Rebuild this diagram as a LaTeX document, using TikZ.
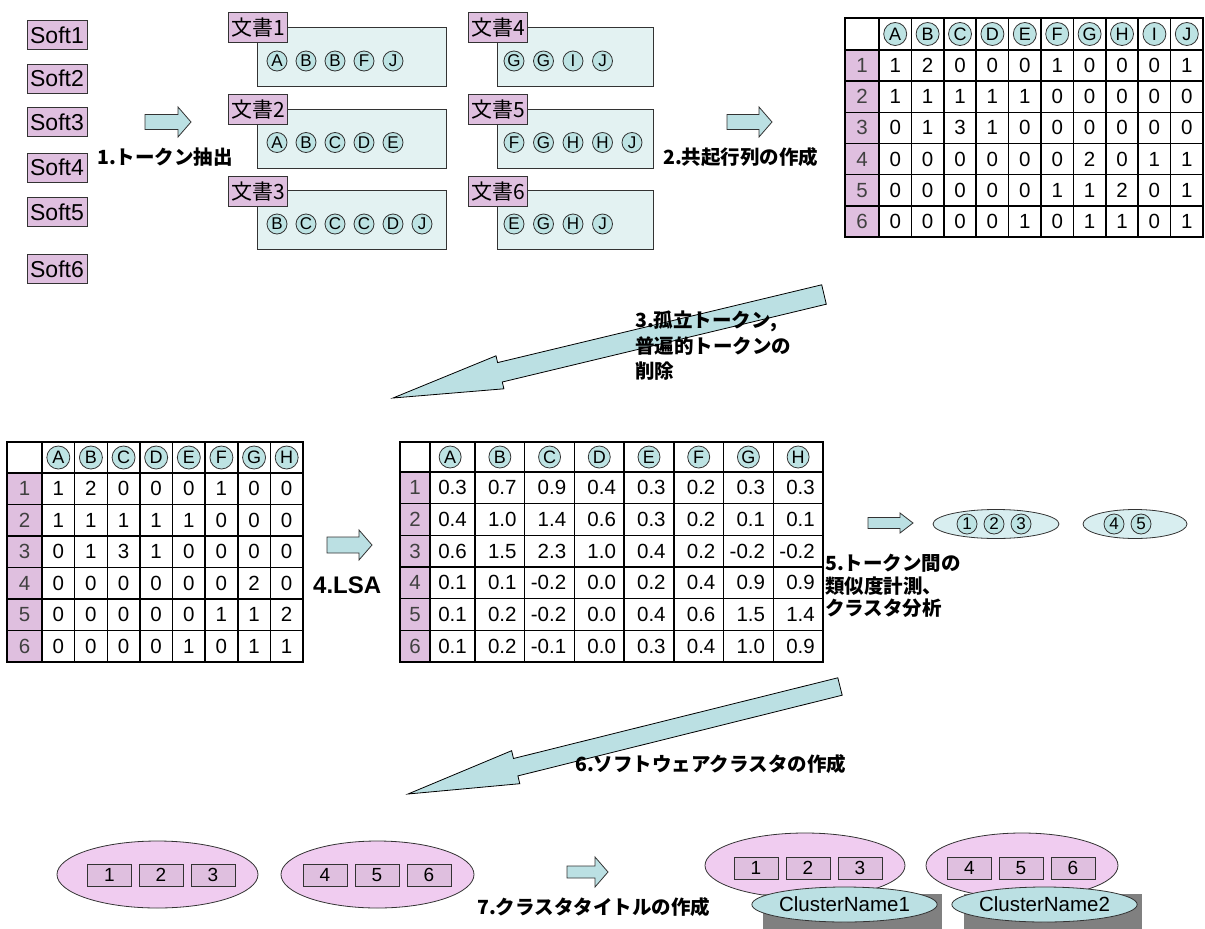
\documentclass[tikz,border=0pt]{standalone}
\usepackage{fontspec}
\setmainfont{Liberation Sans}
\newfontfamily\jp{Noto Sans CJK JP}
\usetikzlibrary{shapes.geometric}
\definecolor{pinkbox}{HTML}{DFBFDF}
\definecolor{pinkell}{HTML}{F0CCF0}
\definecolor{cyanarrow}{HTML}{BBE0E3}
\definecolor{cyandoc}{HTML}{E3F2F2}
\definecolor{cyancirc}{HTML}{BDE3E3}
\definecolor{cyanell}{HTML}{D8EEF0}
\definecolor{edge}{HTML}{333333}
\definecolor{shadowgray}{HTML}{808080}
\newcommand\blockarr[5]{% x y length bodyhalf headhalf
  \filldraw[blockarrow] (#1,#2-#4) -- (#1+#3-13,#2-#4) -- (#1+#3-13,#2-#5) -- (#1+#3,#2)
    -- (#1+#3-13,#2+#5) -- (#1+#3-13,#2+#4) -- (#1,#2+#4) -- cycle;}
\begin{document}
\begin{tikzpicture}[x=1pt,y=-1pt,
  softbox/.style={draw=edge,fill=pinkbox,line width=0.8pt,minimum width=60pt,minimum height=29pt,inner sep=0pt,font=\fontsize{23}{23}\selectfont},
  doclabel/.style={draw=edge,fill=pinkbox,line width=0.8pt,minimum width=59pt,minimum height=30pt,inner sep=0pt,anchor=north west,font=\jp\fontsize{21}{21}\selectfont},
  docbox/.style={draw=edge,fill=cyandoc,line width=0.8pt,inner sep=0pt,anchor=north west,minimum height=59pt},
  tok/.style={circle,draw=edge,fill=cyancirc,line width=0.8pt,minimum size=20pt,inner sep=0pt,font=\fontsize{17}{17}\selectfont},
  hdr/.style={tok,minimum size=23pt,font=\fontsize{18}{18}\selectfont},
  lbl/.style={font=\jp\bfseries\fontsize{19.5}{25}\selectfont,inner sep=0pt,anchor=west},
  num/.style={font=\fontsize{20.5}{20.5}\selectfont,inner sep=0pt},
  rownum/.style={num,text=black!75},
  gridthin/.style={line width=1.5pt,black},
  gridthick/.style={line width=2.8pt,black},
  blockarrow/.style={draw=edge,fill=cyanarrow,line width=0.8pt,line join=miter},
  bigarrow/.style={draw=black,fill=cyanarrow,line width=0.8pt,line join=miter},
  pinkellipse/.style={ellipse,draw=edge,fill=pinkell,line width=0.8pt,inner sep=0pt},
  tokellipse/.style={ellipse,draw=edge,fill=cyanell,line width=0.8pt,inner sep=0pt},
  numbox/.style={draw=edge,fill=pinkbox,line width=0.8pt,minimum width=44pt,minimum height=22pt,inner sep=0pt,font=\fontsize{19}{19}\selectfont},
  namebox/.style={ellipse,draw=edge,fill=cyanarrow,line width=0.8pt,inner sep=0pt,minimum width=177pt,minimum height=35pt,font=\fontsize{20.5}{20.5}\selectfont},
  shadowbox/.style={fill=shadowgray,inner sep=0pt,anchor=north west,minimum height=35pt}
]
\useasboundingbox (0,0) rectangle (1205,929);

% ---- Soft labels
\foreach \i/\yy in {1/35,2/78.5,3/122,4/167.5,5/212,6/269}
  \node[softbox] (soft\i) at (57,\yy) {Soft\i};

% ---- step 1 arrow
\blockarr{145}{122}{46}{7.5}{15}
\node[lbl] (l1) at (97,157) {1.トークン抽出};

% ---- documents
\node[docbox,minimum width=189pt] (d1) at (257,27) {};
\node[doclabel] (d1l) at (228,12) {文書1};
\foreach \t [count=\i] in {A,B,B,F,J} \node[tok] (d1t\i) at ({277+29*(\i-1)},61) {\t};
\node[docbox,minimum width=189pt] (d2) at (257,108.5) {};
\node[doclabel] (d2l) at (228,94) {文書2};
\foreach \t [count=\i] in {A,B,C,D,E} \node[tok] (d2t\i) at ({277+29*(\i-1)},142.5) {\t};
\node[docbox,minimum width=189pt] (d3) at (257,190) {};
\node[doclabel] (d3l) at (228,176) {文書3};
\foreach \t [count=\i] in {B,C,C,C,D,J} \node[tok] (d3t\i) at ({277+29*(\i-1)},224) {\t};
\node[docbox,minimum width=156pt] (d4) at (497,27) {};
\node[doclabel] (d4l) at (468,12) {文書4};
\foreach \t [count=\i] in {G,G,I,J} \node[tok] (d4t\i) at ({514+29.5*(\i-1)},61) {\t};
\node[docbox,minimum width=156pt] (d5) at (497,108.5) {};
\node[doclabel] (d5l) at (468,94) {文書5};
\foreach \t [count=\i] in {F,G,H,H,J} \node[tok] (d5t\i) at ({514+29.5*(\i-1)},142.5) {\t};
\node[docbox,minimum width=156pt] (d6) at (497,190) {};
\node[doclabel] (d6l) at (468,176) {文書6};
\foreach \t [count=\i] in {E,G,H,J} \node[tok] (d6t\i) at ({514+29.5*(\i-1)},224) {\t};

% ---- step 2 arrow
\blockarr{727}{122}{45}{7.5}{15}
\node[lbl] (l2) at (663,157) {2.共起行列の作成};

% ---- matrix 1 (co-occurrence)
\fill[pinkbox] (845,50) rectangle (879,237);
\foreach \c in {1,...,9} \draw[gridthin] ({879+32.4*\c},18) -- ({879+32.4*\c},237);
\foreach \r in {1,...,5} \draw[gridthin] (845,{50+31.17*\r}) -- (1203,{50+31.17*\r});
\draw[gridthick] (845,50) -- (1203,50) (879,18) -- (879,237);
\draw[gridthick] (845,18) rectangle (1203,237);
\foreach \t [count=\c] in {A,B,C,D,E,F,G,H,I,J} \node[hdr] (ma-h\c) at ({879+32.4*(\c-0.5)},34) {\t};
\foreach \r in {1,...,6} \node[rownum] (ma-r\r) at (862,{50+31.17*(\r-0.5)}) {\r};
\foreach \row [count=\r] in {{1,2,0,0,0,1,0,0,0,1},{1,1,1,1,1,0,0,0,0,0},{0,1,3,1,0,0,0,0,0,0},{0,0,0,0,0,0,2,0,1,1},{0,0,0,0,0,1,1,2,0,1},{0,0,0,0,1,0,1,1,0,1}}
  \foreach \v [count=\c] in \row
    \node[num] (ma-\r-\c) at ({879+32.4*(\c-0.5)},{50+31.17*(\r-0.5)}) {\v};

% ---- step 3 big arrow
\filldraw[bigarrow] (821.7,284.8) -- (497.6,362.6) -- (496.0,355.8) -- (393,398) -- (503.9,388.8) -- (502.3,382.0) -- (826.3,304.2) -- cycle;
\node[lbl,anchor=north west,align=left,font=\jp\bfseries\fontsize{19.5}{25.5}\selectfont] (l3) at (635,311) {3.孤立トークン,\\普遍的トークンの\\削除};

% ---- matrix 2 (reduced)
\fill[pinkbox] (7,473) rectangle (42,662);
\foreach \c in {1,...,7} \draw[gridthin] ({42+32.625*\c},442) -- ({42+32.625*\c},662);
\foreach \r in {1,...,5} \draw[gridthin] (7,{473+31.5*\r}) -- (303,{473+31.5*\r});
\draw[gridthick] (7,473) -- (303,473) (42,442) -- (42,662);
\draw[gridthick] (7,442) rectangle (303,662);
\foreach \t [count=\c] in {A,B,C,D,E,F,G,H} \node[hdr] (mb-h\c) at ({42+32.625*(\c-0.5)},457.5) {\t};
\foreach \r in {1,...,6} \node[rownum] (mb-r\r) at (24.5,{473+31.5*(\r-0.5)}) {\r};
\foreach \row [count=\r] in {{1,2,0,0,0,1,0,0},{1,1,1,1,1,0,0,0},{0,1,3,1,0,0,0,0},{0,0,0,0,0,0,2,0},{0,0,0,0,0,1,1,2},{0,0,0,0,1,0,1,1}}
  \foreach \v [count=\c] in \row
    \node[num] (mb-\r-\c) at ({42+32.625*(\c-0.5)},{473+31.5*(\r-0.5)}) {\v};

% ---- step 4 arrow
\blockarr{327}{545}{45}{8}{15}
\node[font=\bfseries\fontsize{24}{24}\selectfont,inner sep=0pt,anchor=west] (l4) at (313,585) {4.LSA};

% ---- matrix 3 (LSA)
\fill[pinkbox] (400,472) rectangle (430,662);
\foreach \c in {1,...,7} \draw[gridthin] ({475+49.71*(\c-1)},442) -- ({475+49.71*(\c-1)},662);
\foreach \r in {1,...,5} \draw[gridthin] (400,{472+31.67*\r}) -- (823,{472+31.67*\r});
\draw[gridthick] (400,472) -- (823,472) (430,442) -- (430,662);
\draw[gridthick] (400,442) rectangle (823,662);
\foreach \t [count=\c] in {A,B,C,D,E,F,G,H} \node[hdr,minimum size=22pt] (mc-h\c) at ({475+49.71*(\c-1.5)},457) {\t};
\foreach \r in {1,...,6} \node[rownum] (mc-r\r) at (415,{472+31.67*(\r-0.5)}) {\r};
\foreach \row [count=\r] in {{0.3,0.7,0.9,0.4,0.3,0.2,0.3,0.3},{0.4,1.0,1.4,0.6,0.3,0.2,0.1,0.1},{0.6,1.5,2.3,1.0,0.4,0.2,-0.2,-0.2},{0.1,0.1,-0.2,0.0,0.2,0.4,0.9,0.9},{0.1,0.2,-0.2,0.0,0.4,0.6,1.5,1.4},{0.1,0.2,-0.1,0.0,0.3,0.4,1.0,0.9}}
  \foreach \v [count=\c] in \row
    \node[num,anchor=east] (mc-\r-\c) at ({475+49.71*(\c-1)-8},{472+31.67*(\r-0.5)}) {\v};

% ---- step 5
\blockarr{868}{523}{45}{5.5}{10}
\node[tokellipse,minimum width=126pt,minimum height=29pt] (te1) at (996,524) {};
\node[tok] (tc1) at (967,524) {1};
\node[tok] (tc2) at (994,524) {2};
\node[tok] (tc3) at (1021,524) {3};
\node[tokellipse,minimum width=104pt,minimum height=29pt] (te2) at (1135,524) {};
\node[tok] (tc4) at (1114,524) {4};
\node[tok] (tc5) at (1141,524) {5};
\node[lbl,anchor=north west,align=left,font=\jp\bfseries\fontsize{19.5}{22.5}\selectfont] (l5) at (825,554) {5.トークン間の\\類似度計測、\\クラスタ分析};

% ---- step 6 big arrow
\filldraw[bigarrow] (837.8,677.8) -- (513.5,758.5) -- (511.6,750.7) -- (408,794) -- (519.8,783.7) -- (517.9,775.9) -- (842.2,695.2) -- cycle;
\node[lbl] (l6) at (575,764) {6.ソフトウェアクラスタの作成};

% ---- software clusters
\node[pinkellipse,minimum width=201pt,minimum height=67pt] (sc1) at (157.5,874.5) {};
\node[numbox] (sc1a) at (109.5,875) {1};
\node[numbox] (sc1b) at (161,875) {2};
\node[numbox] (sc1c) at (213,875) {3};
\node[pinkellipse,minimum width=193pt,minimum height=67pt] (sc2) at (377.5,874.5) {};
\node[numbox] (sc2a) at (325,875) {4};
\node[numbox] (sc2b) at (377,875) {5};
\node[numbox] (sc2c) at (429,875) {6};

% ---- step 7
\blockarr{567}{872}{41}{6}{15}
\node[lbl] (l7) at (477,907) {7.クラスタタイトルの作成};

\node[pinkellipse,minimum width=200pt,minimum height=65pt] (tc1e) at (805,865.5) {};
\node[numbox] (tc1a) at (756,868) {1};
\node[numbox] (tc1b) at (808,868) {2};
\node[numbox] (tc1c) at (860,868) {3};
\node[pinkellipse,minimum width=192pt,minimum height=65pt] (tc2e) at (1022,865.5) {};
\node[numbox] (tc2a) at (969.5,868) {4};
\node[numbox] (tc2b) at (1021,868) {5};
\node[numbox] (tc2c) at (1073,868) {6};
\node[shadowbox,minimum width=179pt] (sh1) at (763,894) {};
\node[shadowbox,minimum width=178pt] (sh2) at (964,894) {};
\node[namebox] (cn1) at (844.5,904.5) {ClusterName1};
\node[namebox] (cn2) at (1044.5,904.5) {ClusterName2};
\end{tikzpicture}
\end{document}
